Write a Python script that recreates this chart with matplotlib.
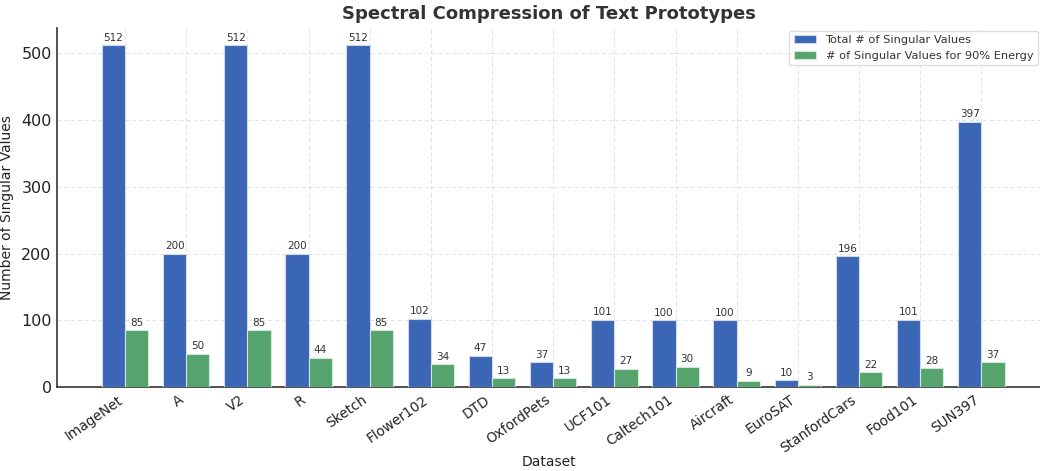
import matplotlib
matplotlib.use("Agg")
import matplotlib.pyplot as plt
import numpy as np

datasets = ["ImageNet", "A", "V2", "R", "Sketch", "Flower102", "DTD", "OxfordPets",
            "UCF101", "Caltech101", "Aircraft", "EuroSAT", "StanfordCars", "Food101", "SUN397"]
total_sv = [512, 200, 512, 200, 512, 102, 47, 37, 101, 100, 100, 10, 196, 101, 397]
energy_sv = [85, 50, 85, 44, 85, 34, 13, 13, 27, 30, 9, 3, 22, 28, 37]

plt.rcParams['font.family'] = ['DejaVu Sans']
fig = plt.figure(figsize=(10.4, 4.71), dpi=100)
ax = fig.add_axes([0.055, 0.178, 0.945, 0.762])

x = np.arange(len(datasets))
w = 0.38
b1 = ax.bar(x - w/2, total_sv, w, color="#3A66B5", edgecolor="#d0d8ea", linewidth=0.8,
            label="Total # of Singular Values", zorder=3)
b2 = ax.bar(x + w/2, energy_sv, w, color="#55A46E", edgecolor="#d4e8da", linewidth=0.8,
            label="# of Singular Values for 90% Energy", zorder=3)

for bars in (b1, b2):
    for r in bars:
        h = r.get_height()
        ax.annotate(f"{int(h)}", (r.get_x() + r.get_width()/2, h), xytext=(0, 2),
                    textcoords="offset points", ha="center", va="bottom",
                    fontsize=7.5, color="#333333")

ax.set_xlim(-1.11, 14.96)
ax.set_ylim(0, 537.6)
ax.set_xticks(x)
ax.set_xticklabels(datasets, rotation=35, ha="right", fontsize=9.8, color="#222222")
ax.set_yticks([0, 100, 200, 300, 400, 500])
ax.tick_params(axis="y", labelsize=11.5, length=0, colors="#222222", pad=4)
ax.tick_params(axis="x", direction="in", length=4, width=1.2, color="#333333", pad=4)
ax.grid(True, linestyle=(0, (4, 3)), color="#e2e2e2", linewidth=0.7, zorder=0)
ax.set_axisbelow(True)
for s in ["top", "right"]:
    ax.spines[s].set_visible(False)
for s in ["left", "bottom"]:
    ax.spines[s].set_color("#333333")
    ax.spines[s].set_linewidth(1.2)

ax.set_xlabel("Dataset", fontsize=10, color="#222222", labelpad=0)
ax.set_ylabel("Number of Singular Values", fontsize=10, color="#222222", labelpad=5)
ax.set_title("Spectral Compression of Text Prototypes", fontsize=13, fontweight="bold",
             color="#333333", pad=7)
ax.legend(loc="upper right", fontsize=8.2, frameon=True, framealpha=1, edgecolor="#dddddd",
          labelcolor="#333333", borderaxespad=0.2)

fig.savefig("out.png", dpi=100)
